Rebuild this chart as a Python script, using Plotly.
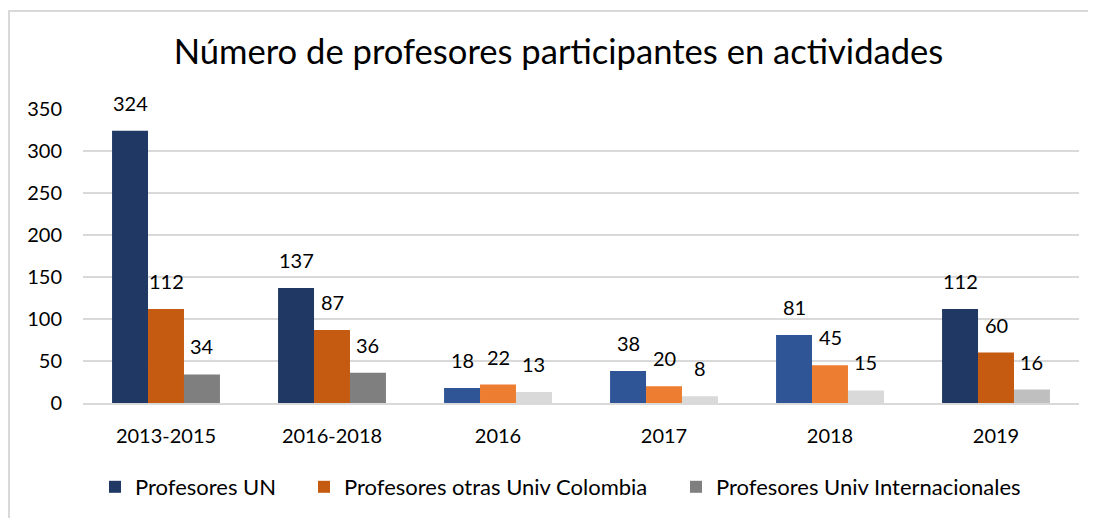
import plotly.graph_objects as go

categories = ["2013-2015", "2016-2018", "2016", "2017", "2018", "2019"]
series_names = ["Profesores UN", "Profesores otras Univ Colombia", "Profesores Univ Internacionales"]
profesores_un = [324, 137, 18, 38, 81, 112]
profesores_otras_col = [112, 87, 22, 20, 45, 60]
profesores_intl = [34, 36, 13, 8, 15, 16]
values = [profesores_un, profesores_otras_col, profesores_intl]

colors = [
    ["#203864", "#203864", "#2F5597", "#2F5597", "#2F5597", "#203864"],
    ["#C55A11", "#C55A11", "#ED7D31", "#ED7D31", "#ED7D31", "#C55A11"],
    ["#7F7F7F", "#7F7F7F", "#D9D9D9", "#D9D9D9", "#D9D9D9", "#BFBFBF"],
]

FONT = "Lato, 'Open Sans', sans-serif"
W, H = 1088, 510           # page body adds an 8px margin
ML, MR, MT, MB = 75, 17, 101, 115
pw = W - ML - MR
ph = H - MT - MB

legend_keys = ["legend", "legend2", "legend3"]
legend_x_px = [87, 296, 668]

fig = go.Figure()
for i, (name, vals) in enumerate(zip(series_names, values)):
    fig.add_trace(go.Bar(
        x=categories, y=vals, name=name,
        marker=dict(color=colors[i], line=dict(width=0)),
        hoverinfo="x+y+name", legend=legend_keys[i], showlegend=True,
    ))

# data labels (category axis: annotation x as category index)
group_px = pw / len(categories)
bar_px = group_px * (1 - 0.35) / 3
annotations = []
for i, vals in enumerate(values):
    for j, v in enumerate(vals):
        annotations.append(dict(
            x=j, y=v, xref="x", yref="y", text=str(v), showarrow=False,
            xshift=(i - 1) * bar_px, yshift=14, yanchor="bottom",
            font=dict(family=FONT, size=20, color="#000000"),
        ))

legend_common = dict(orientation="h", xref="container", xanchor="left",
                     y=1 - 479 / H, yref="container", yanchor="middle",
                     font=dict(family=FONT, size=22, color="#000000"),
                     itemclick=False, bgcolor="rgba(0,0,0,0)", borderwidth=0)

fig.update_layout(
    width=W, height=H,
    margin=dict(l=ML, r=MR, t=MT, b=MB),
    paper_bgcolor="white", plot_bgcolor="white",
    showlegend=True,
    barmode="group", bargap=0.35, bargroupgap=0,
    title=dict(text="Número de profesores participantes en actividades",
               x=550.5 / W, xref="container", xanchor="center",
               y=1 - 44 / H, yref="container", yanchor="middle",
               font=dict(family=FONT, size=34.6, color="#000000")),
    font=dict(family=FONT, size=20, color="#000000"),
    legend=dict(x=legend_x_px[0] / W, **legend_common),
    legend2=dict(x=legend_x_px[1] / W, **legend_common),
    legend3=dict(x=legend_x_px[2] / W, **legend_common),
    annotations=annotations,
    shapes=[dict(type="rect", xref="paper", yref="paper",
                 x0=(1 - ML) / pw, x1=(W + 10 - ML) / pw,
                 y0=(H - MB - (H + 10)) / ph, y1=(H - MB - 3) / ph,
                 line=dict(color="#D9D9D9", width=2), layer="below")],
)
fig.update_xaxes(type="category", range=[-0.5, len(categories) - 0.5],
                 showgrid=False, showline=True, linecolor="#D9D9D9", linewidth=2,
                 ticks="", tickfont=dict(family=FONT, size=20), ticklabelstandoff=14,
                 fixedrange=True)
fig.update_yaxes(range=[0, 350], dtick=50, showgrid=True, gridcolor="#D9D9D9", gridwidth=2,
                 zeroline=False, showline=False, ticks="",
                 tickfont=dict(family=FONT, size=20), ticklabelstandoff=20,
                 fixedrange=True)

fig.write_html("out.html")
